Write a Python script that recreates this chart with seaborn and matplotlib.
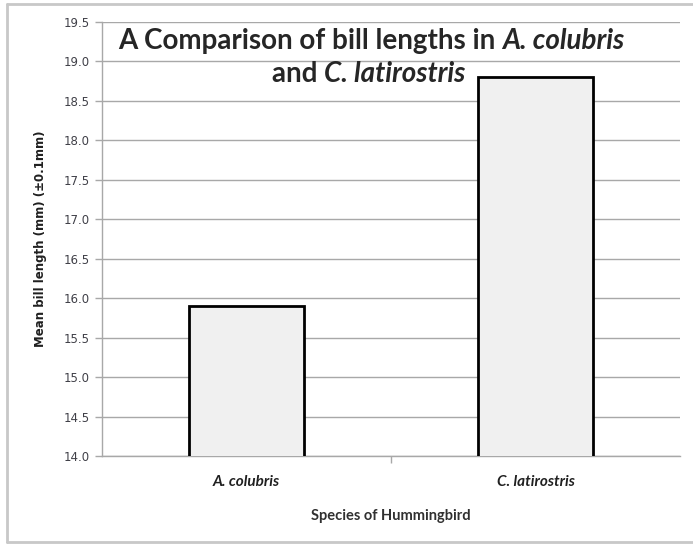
import matplotlib
matplotlib.use("Agg")
import matplotlib.pyplot as plt
from matplotlib.lines import Line2D
import seaborn as sns
import pandas as pd

species = ["A. colubris", "C. latirostris"]
mean_bill_mm = [15.9, 18.8]
y_ticks = [14.0, 14.5, 15.0, 15.5, 16.0, 16.5, 17.0, 17.5, 18.0, 18.5, 19.0, 19.5]

df = pd.DataFrame({"species": species, "bill": mean_bill_mm})

sns.set_theme(style="white")
plt.rcParams["font.family"] = ["Lato", "DejaVu Sans"]

W, H = 693, 544
fig = plt.figure(figsize=(W / 100, H / 100), dpi=100)
fig.patch.set_facecolor("white")

# chart frame (light grey border)
frame_c = "#c8c8c8"
fig.add_artist(Line2D([7 / W, 7 / W], [1 - 4 / H, 1 - 542 / H], color=frame_c, lw=2, transform=fig.transFigure))
fig.add_artist(Line2D([7 / W, 1], [1 - 4 / H, 1 - 4 / H], color=frame_c, lw=2, transform=fig.transFigure))
fig.add_artist(Line2D([7 / W, 1], [1 - 542 / H, 1 - 542 / H], color=frame_c, lw=2, transform=fig.transFigure))

ax = fig.add_axes([102 / W, 1 - 456 / H, (680 - 102) / W, (456 - 22) / H])
ax.set_facecolor("white")

sns.barplot(data=df, x="species", y="bill", ax=ax, color="#f0f0f0",
            edgecolor="black", linewidth=2, width=0.4, saturation=1, zorder=3)

ax.set_ylim(14.0, 19.5)
ax.set_xlim(-0.5, 1.5)
ax.set_yticks(y_ticks)
ax.set_yticklabels([f"{v:.1f}" for v in y_ticks], family="DejaVu Sans",
                   fontsize=8.5, color="#404048")
ax.yaxis.grid(True, color="#a8a8a8", lw=1, zorder=0)
ax.set_axisbelow(True)

ax.tick_params(axis="y", which="major", direction="out", length=5, width=1,
               color="#a8a8a8", left=True, pad=4)
ax.tick_params(axis="x", which="major", length=0, pad=14)
ax.set_xticks([0.5], minor=True)
ax.tick_params(axis="x", which="minor", direction="out", length=5, width=1,
               color="#a8a8a8", bottom=True)
for lab in ax.get_xticklabels():
    lab.set_fontstyle("italic")
    lab.set_fontweight("bold")
    lab.set_fontsize(11)
    lab.set_color("#202020")

for side in ["top", "right"]:
    ax.spines[side].set_visible(False)
for side in ["left", "bottom"]:
    ax.spines[side].set_color("#a8a8a8")
    ax.spines[side].set_linewidth(1)

ax.set_xlabel("Species of Hummingbird", fontsize=10.5, fontweight="bold",
              color="#303030", labelpad=14)
ax.set_ylabel("Mean bill length (mm) (±0.1mm)", fontsize=8.5, fontweight="bold",
              family="DejaVu Sans", color="#202020", labelpad=12)

# two-line title with italic species names
tsize = 20
t1 = fig.text(118 / W, 1 - 49 / H, "A Comparison of bill lengths in ",
              fontsize=tsize, fontweight="bold", va="baseline", ha="left")
ax.annotate("A. colubris", xy=(1, 0), xycoords=t1, va="bottom", ha="left",
            fontsize=tsize, fontweight="bold", fontstyle="italic")
t2 = fig.text(272 / W, 1 - 82 / H, "and ",
              fontsize=tsize, fontweight="bold", va="baseline", ha="left")
ax.annotate("C. latirostris", xy=(1, 0), xycoords=t2, va="bottom", ha="left",
            fontsize=tsize, fontweight="bold", fontstyle="italic")

fig.savefig("out.png", dpi=100, facecolor="white")
